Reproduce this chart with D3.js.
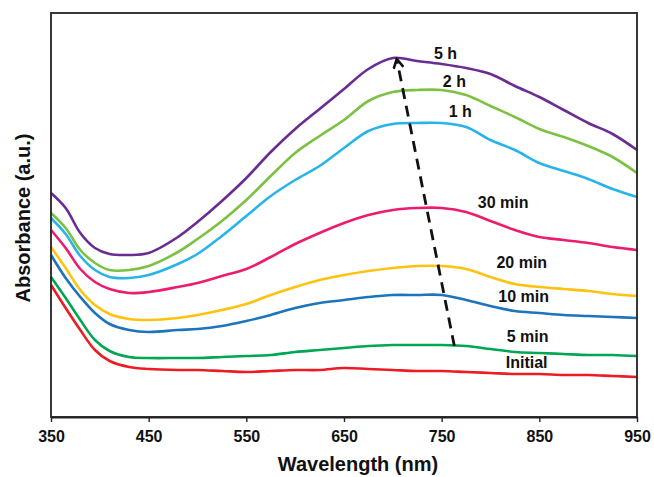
<!DOCTYPE html>
<html>
<head>
<meta charset="utf-8">
<script src="https://cdn.jsdelivr.net/npm/d3@7"></script>
<style>
  body { margin: 0; background: #fff; }
  text { font-family: "Liberation Sans", Arial, sans-serif; font-weight: bold; fill: #111; }
</style>
</head>
<body>
<script>

// ================================ data
var wavelengths = [350, 365, 380, 395, 410, 430, 450, 480, 500, 525, 550, 575, 600, 625,
  650, 675, 700, 725, 750, 775, 800, 825, 850, 875, 900, 925, 950];

var abs5h = [1.12, 1.045, 0.92, 0.845, 0.815, 0.81, 0.82, 0.90, 0.975, 1.08, 1.195, 1.325, 1.44, 1.54,
  1.64, 1.74, 1.795, 1.78, 1.765, 1.745, 1.715, 1.655, 1.60, 1.535, 1.47, 1.415, 1.335];
var abs2h = [1.02, 0.945, 0.835, 0.77, 0.735, 0.735, 0.755, 0.825, 0.89, 0.98, 1.085, 1.205, 1.32, 1.405,
  1.485, 1.58, 1.625, 1.635, 1.635, 1.61, 1.555, 1.50, 1.44, 1.40, 1.355, 1.30, 1.22];
var abs1h = [0.995, 0.915, 0.805, 0.735, 0.70, 0.695, 0.71, 0.765, 0.815, 0.905, 1.005, 1.105, 1.185, 1.255,
  1.345, 1.43, 1.465, 1.47, 1.47, 1.45, 1.385, 1.335, 1.27, 1.23, 1.19, 1.14, 1.10];
var abs30m = [0.935, 0.845, 0.74, 0.675, 0.64, 0.62, 0.625, 0.65, 0.67, 0.705, 0.74, 0.80, 0.865, 0.92,
  0.97, 1.01, 1.035, 1.045, 1.045, 1.025, 0.98, 0.935, 0.90, 0.885, 0.87, 0.85, 0.835];
var abs20m = [0.85, 0.745, 0.635, 0.56, 0.515, 0.49, 0.485, 0.495, 0.51, 0.535, 0.565, 0.61, 0.65, 0.685,
  0.71, 0.73, 0.745, 0.755, 0.755, 0.74, 0.70, 0.665, 0.65, 0.64, 0.63, 0.615, 0.605];
var abs10m = [0.81, 0.695, 0.60, 0.52, 0.465, 0.435, 0.425, 0.435, 0.44, 0.455, 0.48, 0.51, 0.545, 0.57,
  0.585, 0.60, 0.61, 0.61, 0.61, 0.585, 0.555, 0.53, 0.52, 0.51, 0.505, 0.50, 0.495];
var abs5m = [0.70, 0.595, 0.485, 0.385, 0.33, 0.30, 0.295, 0.295, 0.295, 0.30, 0.305, 0.31, 0.325, 0.335,
  0.345, 0.355, 0.36, 0.36, 0.36, 0.355, 0.34, 0.325, 0.32, 0.315, 0.31, 0.31, 0.305];
var absInitial = [0.66, 0.545, 0.435, 0.335, 0.28, 0.25, 0.24, 0.235, 0.235, 0.23, 0.225, 0.23, 0.235, 0.235,
  0.245, 0.24, 0.235, 0.23, 0.23, 0.225, 0.22, 0.215, 0.215, 0.21, 0.21, 0.205, 0.20];

var seriesNames = ["Initial", "5 min", "10 min", "20 min", "30 min", "1 h", "2 h", "5 h"];
var seriesValues = [absInitial, abs5m, abs10m, abs20m, abs30m, abs1h, abs2h, abs5h];
var seriesColors = ["#ed1c24", "#00a651", "#1c75bc", "#ffc20e", "#ec1c6e", "#27b4e9", "#7cc142", "#6a2c91"];

// label anchor (wavelength, absorbance) for each series
var labelWl = [837, 838, 834, 832, 813, 769, 763, 754];
var labelAbs = [0.245, 0.375, 0.575, 0.745, 1.045, 1.50, 1.65, 1.79];

// dashed arrow: from 5 min peak region up to 5 h peak
var arrowWl = [763, 704];
var arrowAbs = [0.355, 1.79];

var xTicks = [350, 450, 550, 650, 750, 850, 950];

// ================================ chart
var svgWidth = 654;
var svgHeight = 477;

var chartMargin = { top: 13, right: 17, bottom: 60, left: 51 };

var chartWidth = svgWidth - chartMargin.left - chartMargin.right;
var chartHeight = svgHeight - chartMargin.top - chartMargin.bottom;

var svg = d3.select("body")
  .append("svg")
  .attr("width", svgWidth)
  .attr("height", svgHeight);

var chartGroup = svg.append("g")
  .attr("transform", `translate(${chartMargin.left}, ${chartMargin.top})`);

var xScale = d3.scaleLinear()
  .domain([350, 950])
  .range([0, chartWidth]);

var yScale = d3.scaleLinear()
  .domain([0, 2.02])
  .range([chartHeight, 0]);

var line = d3.line()
  .x(d => xScale(d[0]))
  .y(d => yScale(d[1]))
  .curve(d3.curveCatmullRom.alpha(0.5));

// curves
seriesValues.forEach(function (vals, i) {
  var pts = wavelengths.map((w, j) => [w, vals[j]]);
  chartGroup.append("path")
    .datum(pts)
    .attr("fill", "none")
    .attr("stroke", seriesColors[i])
    .attr("stroke-width", 2.6)
    .attr("stroke-linejoin", "round")
    .attr("d", line);
});

// frame
chartGroup.append("rect")
  .attr("x", 0)
  .attr("y", 0)
  .attr("width", chartWidth)
  .attr("height", chartHeight)
  .attr("fill", "none")
  .attr("stroke", "#222")
  .attr("stroke-width", 1.8);

// bottom axis
var bottomAxis = d3.axisBottom(xScale)
  .tickValues(xTicks)
  .tickSize(5)
  .tickSizeOuter(0)
  .tickPadding(9)
  .tickFormat(d3.format("d"));

var xAxisG = chartGroup.append("g")
  .attr("transform", `translate(0, ${chartHeight})`)
  .call(bottomAxis);
xAxisG.select(".domain").attr("stroke", "#222").attr("stroke-width", 1.8);
xAxisG.selectAll(".tick line").attr("stroke", "#222").attr("stroke-width", 1.4);
xAxisG.selectAll("text")
  .style("font-size", "16px")
  .style("font-family", "'Liberation Sans', Arial, sans-serif")
  .style("font-weight", "bold")
  .attr("fill", "#111");

// dashed arrow
svg.append("defs").append("marker")
  .attr("id", "head")
  .attr("viewBox", "0 0 12 12")
  .attr("refX", 10)
  .attr("refY", 6)
  .attr("markerWidth", 12)
  .attr("markerHeight", 12)
  .attr("markerUnits", "userSpaceOnUse")
  .attr("orient", "auto")
  .append("path")
  .attr("d", "M1,1 L10,6 L1,11")
  .attr("fill", "none")
  .attr("stroke", "#111")
  .attr("stroke-width", 2.6);

chartGroup.append("line")
  .attr("x1", xScale(arrowWl[0]))
  .attr("y1", yScale(arrowAbs[0]))
  .attr("x2", xScale(arrowWl[1]))
  .attr("y2", yScale(arrowAbs[1]))
  .attr("stroke", "#111")
  .attr("stroke-width", 2.8)
  .attr("stroke-dasharray", "11,7")
  .attr("marker-end", "url(#head)");

// series labels
chartGroup.selectAll(".lbl")
  .data(seriesNames)
  .enter()
  .append("text")
  .attr("class", "lbl")
  .attr("x", (d, i) => xScale(labelWl[i]))
  .attr("y", (d, i) => yScale(labelAbs[i]))
  .attr("text-anchor", "middle")
  .style("font-size", "16px")
  .text(d => d);

// axis titles
svg.append("text")
  .attr("x", chartMargin.left + chartWidth / 2 + 14)
  .attr("y", 471)
  .attr("text-anchor", "middle")
  .style("font-size", "20px")
  .text("Wavelength (nm)");

svg.append("text")
  .attr("transform", `translate(30, ${chartMargin.top + 205}) rotate(-90)`)
  .attr("text-anchor", "middle")
  .style("font-size", "20px")
  .text("Absorbance (a.u.)");

</script>
</body>
</html>
